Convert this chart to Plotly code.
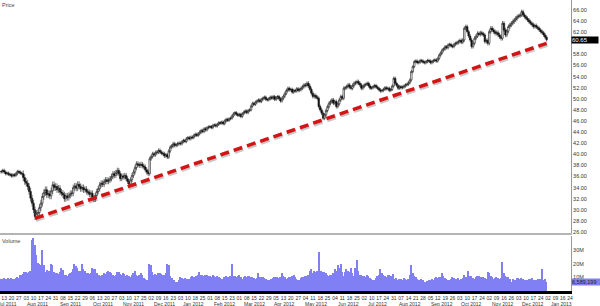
import pandas as pd
import plotly.graph_objects as go

# ---------------- data ----------------
holidays = ["2011-09-05", "2011-11-24", "2011-12-26", "2012-01-02", "2012-01-16", "2012-02-20",
            "2012-04-06", "2012-05-28", "2012-07-04", "2012-09-03", "2012-10-29", "2012-10-30",
            "2012-11-22", "2012-12-25", "2013-01-01", "2013-01-21"]

close_2011_07 = [36.9, 37.1, 36.8, 36.5, 36.6, 36.4, 36.3, 36.1, 36.3, 36.2, 36.5, 36.9, 36.8, 36.6, 36.5]
close_2011_08 = [35.8, 35.1, 34.8, 34.2, 33.3, 32.1, 31.2, 30.0, 28.8, 29.3, 29.5, 30.4, 31.2, 32.4, 33.1,
                 33.6, 32.7, 32.9, 32.5, 33.4, 34.5, 34.0, 34.2]
close_2011_09 = [33.6, 33.9, 33.2, 33.0, 32.7, 32.0, 32.5, 32.2, 32.6, 32.9, 33.0, 34.0, 34.3, 33.9, 34.6,
                 34.2, 33.8, 34.0, 33.6, 33.7, 33.3]
close_2011_10 = [33.1, 32.8, 33.0, 32.2, 31.9, 32.6, 33.3, 33.8, 34.5, 34.8, 34.6, 35.1, 35.4, 35.1, 35.3,
                 35.6, 36.0, 36.5, 36.2, 36.7, 37.1]
close_2011_11 = [36.5, 35.6, 36.1, 35.9, 36.2, 35.6, 35.1, 34.6, 35.4, 36.2, 36.8, 37.6, 38.3, 38.1, 38.0,
                 38.2, 37.9, 37.7, 37.2, 36.8, 36.5]
close_2011_12 = [39.2, 39.6, 40.1, 39.9, 40.3, 40.4, 40.7, 40.4, 40.2, 40.1, 39.7, 39.9, 39.5, 40.6, 41.3,
                 41.5, 41.9, 41.6, 41.7, 41.9, 42.0]
close_2012_01 = [41.9, 42.3, 42.5, 42.3, 42.8, 43.0, 42.8, 43.1, 43.0, 43.4, 43.6, 43.4, 43.7, 44.0, 44.3,
                 44.1, 44.6, 44.4, 44.8, 44.9]
close_2012_02 = [45.0, 44.8, 45.2, 45.3, 45.1, 45.4, 45.7, 45.6, 45.8, 45.5, 46.0, 46.3, 46.1, 46.4, 46.5,
                 46.9, 47.3, 47.5, 47.2, 47.0]
close_2012_03 = [47.2, 46.8, 47.3, 47.6, 47.8, 47.5, 47.9, 48.0, 48.7, 49.2, 49.0, 49.4, 49.6, 49.8, 49.5,
                 49.9, 50.1, 50.3, 49.9, 49.8, 50.0, 50.3]
close_2012_04 = [50.1, 50.4, 49.9, 50.2, 50.4, 50.0, 49.6, 50.1, 50.5, 51.0, 51.5, 51.9, 51.6, 51.7, 51.2,
                 51.5, 51.4, 51.8, 51.5, 51.7]
close_2012_05 = [51.9, 52.2, 52.5, 52.4, 52.8, 52.3, 51.7, 51.0, 50.4, 50.6, 50.3, 50.1, 48.6, 48.0, 47.4,
                 46.5, 47.1, 47.9, 48.6, 49.2, 49.5, 49.8]
close_2012_06 = [49.2, 49.5, 48.6, 49.1, 49.8, 50.4, 50.1, 51.9, 52.0, 52.2, 52.5, 52.1, 51.9, 52.4, 52.8,
                 52.9, 53.1, 52.8, 52.5, 51.9, 52.2]
close_2012_07 = [52.5, 52.6, 52.8, 52.3, 51.9, 52.0, 52.2, 52.4, 52.1, 51.9, 51.6, 51.4, 51.5, 51.7, 52.0,
                 51.8, 51.9, 51.5, 51.7, 52.3, 53.7]
close_2012_08 = [52.8, 52.4, 51.9, 52.2, 52.0, 52.1, 52.3, 52.5, 52.6, 52.9, 53.4, 54.9, 55.8, 56.7, 56.8,
                 56.5, 56.6, 56.9, 56.8, 56.6, 56.5, 56.7, 56.9]
close_2012_09 = [56.8, 56.5, 56.7, 56.9, 57.0, 56.8, 57.3, 57.9, 58.3, 58.8, 59.0, 59.4, 59.2, 59.7, 59.8,
                 59.5, 59.4, 59.8, 60.0]
close_2012_10 = [60.1, 60.3, 60.5, 60.2, 60.6, 62.7, 63.0, 62.1, 61.3, 60.6, 59.4, 60.0, 60.9, 61.3, 61.8,
                 61.6, 61.9, 61.7, 61.5, 60.3, 60.5]
close_2012_11 = [60.0, 62.1, 62.7, 62.4, 62.1, 61.8, 61.9, 61.5, 61.2, 60.9, 63.6, 62.4, 61.5, 62.2, 63.0,
                 63.3, 63.6, 63.9, 64.2, 64.5, 64.8]
close_2012_12 = [64.9, 65.1, 65.7, 65.1, 64.8, 64.5, 64.2, 63.9, 63.6, 63.4, 63.0, 63.2, 62.9, 62.7, 62.4,
                 62.1, 61.9, 61.5, 61.1, 60.65]
first_open = 36.8

# typical intraday half-range (wick beyond body) per month, read from candle height
month_wick = [0.30, 0.60, 0.55, 0.50, 0.45, 0.35, 0.30, 0.28, 0.28, 0.30, 0.35, 0.35,
              0.30, 0.30, 0.30, 0.35, 0.40, 0.35]

vol_2011_07 = [9.2, 8.8, 9.5, 8.6, 9.0, 9.4, 8.9, 9.8, 9.1, 8.7, 9.6, 10.2, 9.3, 11.5, 12.2]
vol_2011_08 = [12.5, 13.8, 14.2, 13.6, 14.4, 15.1, 37.8, 39.0, 34.0, 26.7, 20.7, 20.0, 19.0, 30.0, 19.0,
               14.0, 15.5, 14.8, 15.0, 20.0, 19.0, 14.0, 13.0]
vol_2011_09 = [13.0, 12.5, 14.0, 17.0, 15.5, 12.0, 11.5, 11.0, 12.8, 13.5, 14.0, 16.5, 20.0, 18.5, 17.0,
               15.0, 14.5, 20.0, 16.0, 15.0, 13.5]
vol_2011_10 = [13.0, 12.8, 13.5, 17.0, 16.5, 16.0, 13.0, 12.0, 11.5, 11.0, 12.0, 13.0, 12.5, 14.0, 15.0,
               14.0, 13.0, 12.0, 11.0, 11.5, 14.0]
vol_2011_11 = [14.0, 12.5, 12.0, 13.0, 12.5, 11.0, 11.5, 11.0, 10.5, 12.0, 13.5, 15.0, 12.0, 11.0, 11.5,
               13.0, 12.0, 9.5, 9.0, 8.0, 6.7]
vol_2011_12 = [20.0, 19.0, 14.0, 12.0, 12.5, 12.0, 13.0, 13.5, 12.5, 12.0, 12.0, 13.0, 20.0, 19.5, 11.0,
               9.5, 8.0, 8.5, 7.0, 6.5, 8.0]
vol_2012_01 = [10.0, 9.5, 9.0, 9.5, 8.8, 9.2, 9.0, 10.0, 11.0, 10.5, 9.5, 11.0, 12.0, 14.0, 12.0, 11.5,
               11.0, 12.0, 11.5, 11.0]
vol_2012_02 = [11.0, 10.5, 11.5, 11.0, 10.0, 11.0, 10.5, 9.5, 9.0, 9.0, 10.0, 11.0, 10.5, 10.0, 11.0, 20.0,
               11.0, 11.0, 10.5, 11.0]
vol_2012_03 = [12.0, 10.5, 9.0, 10.0, 11.0, 10.5, 11.0, 11.0, 10.0, 10.5, 9.5, 9.0, 9.5, 13.0, 10.5, 10.0,
               10.0, 9.5, 9.0, 8.5, 8.0, 8.5]
vol_2012_04 = [9.0, 9.5, 10.0, 10.5, 10.0, 9.5, 10.0, 13.0, 11.0, 10.0, 9.0, 9.5, 10.0, 10.5, 11.0, 12.0,
               10.0, 9.0, 8.5, 8.0]
vol_2012_05 = [9.5, 10.0, 10.5, 11.0, 11.0, 12.0, 15.0, 16.0, 13.0, 15.0, 14.0, 15.0, 29.0, 13.0, 15.0,
               14.0, 14.0, 13.0, 11.5, 11.0, 11.5, 12.0]
vol_2012_06 = [13.0, 16.0, 15.0, 19.0, 17.0, 20.0, 14.0, 11.0, 14.0, 16.0, 15.0, 14.0, 17.0, 13.0, 11.0,
               17.0, 23.0, 15.0, 12.0, 11.5, 11.0]
vol_2012_07 = [11.0, 10.5, 12.0, 11.0, 9.5, 9.0, 8.5, 8.0, 9.5, 11.0, 12.0, 16.0, 13.0, 11.5, 11.0, 10.0,
               11.5, 12.0, 11.0, 10.0, 12.5]
vol_2012_08 = [9.0, 9.5, 8.5, 9.0, 9.0, 8.5, 9.5, 9.0, 8.5, 9.0, 12.0, 19.0, 13.0, 11.0, 10.0, 9.0, 8.0,
               8.5, 9.0, 8.0, 7.0, 6.7, 7.5]
vol_2012_09 = [8.0, 8.5, 9.0, 8.5, 9.5, 10.0, 9.5, 10.0, 10.5, 13.0, 11.0, 9.5, 9.0, 8.5, 8.0, 9.0, 10.0,
               9.5, 9.0]
vol_2012_10 = [9.0, 9.5, 8.5, 9.0, 9.5, 12.0, 10.5, 10.0, 15.0, 11.0, 11.0, 9.5, 9.0, 10.5, 11.0, 11.0,
               10.5, 10.0, 10.0, 9.5, 9.0]
vol_2012_11 = [14.0, 13.0, 11.0, 10.0, 9.0, 9.5, 10.0, 9.5, 9.0, 9.5, 21.7, 13.0, 11.0, 10.0, 10.5, 9.0,
               7.0, 9.0, 8.5, 8.0, 9.5]
vol_2012_12 = [9.5, 9.0, 9.5, 9.0, 8.5, 8.0, 8.5, 9.0, 9.0, 9.5, 8.5, 8.0, 8.5, 9.0, 8.0, 9.0, 16.0, 8.0,
               9.0, 6.589199]

trend_dates = ["2011-08-11", "2012-12-31"]
trend_values = [28.45, 60.0]

price_ticks = [26, 28, 30, 32, 34, 36, 38, 40, 42, 44, 46, 48, 50, 52, 54, 56, 58, 62, 64, 66]
last_price_label = "60.65"
last_volume_label = "6,589,199"
vol_ticks = [10, 20, 30]
vol_tick_text = ["10M", "20M", "30M"]

# ---------------- assemble ----------------
close_months = [close_2011_07, close_2011_08, close_2011_09, close_2011_10, close_2011_11, close_2011_12,
                close_2012_01, close_2012_02, close_2012_03, close_2012_04, close_2012_05, close_2012_06,
                close_2012_07, close_2012_08, close_2012_09, close_2012_10, close_2012_11, close_2012_12]
vol_months = [vol_2011_07, vol_2011_08, vol_2011_09, vol_2011_10, vol_2011_11, vol_2011_12,
              vol_2012_01, vol_2012_02, vol_2012_03, vol_2012_04, vol_2012_05, vol_2012_06,
              vol_2012_07, vol_2012_08, vol_2012_09, vol_2012_10, vol_2012_11, vol_2012_12]
closes, volumes, wicks = [], [], []
for cm, vm, w in zip(close_months, vol_months, month_wick):
    closes += cm
    volumes += vm
    wicks += [w] * len(cm)

bday = pd.offsets.CustomBusinessDay(holidays=holidays)
axis_days = list(pd.date_range("2011-07-05", "2013-01-25", freq=bday))
pos_of = {d: i for i, d in enumerate(axis_days)}
start = pos_of[pd.Timestamp("2011-07-11")]
n = min(len(closes), len(volumes))
closes, volumes, wicks = closes[:n], volumes[:n], wicks[:n]
xpos = list(range(start, start + n))

opens = [first_open] + closes[:-1]
highs = [max(o, c) + w for o, c, w in zip(opens, closes, wicks)]
lows = [min(o, c) - w for o, c, w in zip(opens, closes, wicks)]

# tick positions: every 5 trading days
tick_pos = [p for p in range(len(axis_days)) if p % 5 == 1]
tick_text = [axis_days[p].strftime("%d") for p in tick_pos]

# month labels near the 15th of each month
month_ann = []
for m in pd.date_range("2011-07-01", "2013-01-01", freq="MS"):
    target = m + pd.Timedelta(days=14)
    cand = [i for i, d in enumerate(axis_days) if d >= target]
    if cand:
        month_ann.append((cand[0], m.strftime("%b %Y")))

trend_x = [pos_of[pd.Timestamp(d)] for d in trend_dates]

FONT = "Liberation Sans, Arial, sans-serif"
fig = go.Figure()

fig.add_trace(go.Bar(x=xpos, y=volumes, xaxis="x", yaxis="y",
                     marker=dict(color="#8080F4", line=dict(width=0)), hoverinfo="skip"))

fig.add_trace(go.Candlestick(x=xpos, open=opens, high=highs, low=lows, close=closes,
                             xaxis="x2", yaxis="y2", whiskerwidth=0,
                             increasing=dict(line=dict(color="#111", width=0.6), fillcolor="white"),
                             decreasing=dict(line=dict(color="#111", width=0.6), fillcolor="#111"),
                             hoverinfo="skip"))

# trendline shadow and trendline
fig.add_trace(go.Scatter(x=[t + 0.6 for t in trend_x], y=[v - 0.33 for v in trend_values],
                         xaxis="x2", yaxis="y2", mode="lines",
                         line=dict(color="rgba(0,0,0,0.22)", width=3.5, dash="9px,5px"),
                         hoverinfo="skip"))
fig.add_trace(go.Scatter(x=trend_x, y=trend_values, xaxis="x2", yaxis="y2", mode="lines",
                         line=dict(color="#D41414", width=3.5, dash="9px,5px"), hoverinfo="skip"))

annotations = [
    dict(text="Price", xref="paper", yref="paper", x=0, y=1, xanchor="left", yanchor="top",
         showarrow=False, font=dict(size=5.5, color="#444", family=FONT)),
    dict(text="Volume", xref="paper", yref="paper", x=0, y=0.189, xanchor="left", yanchor="top",
         showarrow=False, font=dict(size=5.5, color="#444", family=FONT)),
    dict(text=last_price_label, xref="paper", yref="y2", x=1, y=float(last_price_label),
         xanchor="left", yanchor="middle", showarrow=False, bgcolor="black", width=26, align="left",
         borderpad=0, font=dict(size=6, color="white", family=FONT)),
    dict(text=last_volume_label, xref="paper", yref="y", x=1, y=volumes[-1],
         xanchor="left", yanchor="middle", showarrow=False, bgcolor="#8080F4", width=28, align="left",
         borderpad=0, font=dict(size=5.5, color="#222", family=FONT)),
]
for p, label in month_ann:
    annotations.append(dict(text=label, xref="x", yref="paper", x=p, y=-12.5 / 291,
                            xanchor="center", yanchor="middle", showarrow=False,
                            font=dict(size=5, color="#333", family=FONT)))

fig.update_layout(
    width=600, height=306,
    margin=dict(l=0, r=29, t=0, b=15),
    paper_bgcolor="white", plot_bgcolor="white",
    showlegend=False, hovermode=False, bargap=0, boxgap=0, boxgroupgap=0,
    font=dict(family=FONT, size=5.5, color="#333"),
    xaxis=dict(domain=[0, 1], anchor="y", range=[3.18, 391.6], tickmode="array",
               tickvals=tick_pos, ticktext=tick_text, ticks="", tickangle=0,
               showline=True, linecolor="black", linewidth=3, showgrid=False, zeroline=False,
               tickfont=dict(size=5, color="#333")),
    xaxis2=dict(domain=[0, 1], anchor="y2", matches="x", showticklabels=False, ticks="",
                showline=True, linecolor="#b4b4b4", linewidth=2, showgrid=False, zeroline=False,
                rangeslider=dict(visible=False)),
    yaxis=dict(domain=[0, 0.189], anchor="x", side="right", range=[0, 40.7],
               tickmode="array", tickvals=vol_ticks, ticktext=vol_tick_text, ticks="",
               showline=True, linecolor="#999", linewidth=1, showgrid=False, zeroline=False,
               tickfont=dict(size=5.5, color="#333")),
    yaxis2=dict(domain=[0.1993, 1], anchor="x2", side="right", range=[25.82, 67.8],
                tickmode="array", tickvals=price_ticks, tickformat=".2f", ticks="",
                showline=True, linecolor="#999", linewidth=1, showgrid=False, zeroline=False,
                tickfont=dict(size=5.5, color="#333")),
    annotations=annotations,
)

fig.write_html("out.html")
